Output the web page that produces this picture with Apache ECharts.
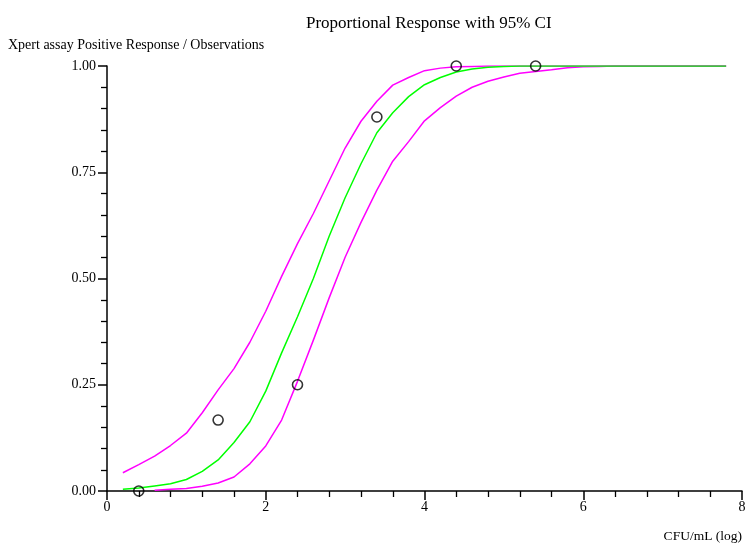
<!DOCTYPE html>
<html>
<head>
<meta charset="utf-8">
<script src="https://cdn.jsdelivr.net/npm/echarts@6/dist/echarts.min.js"></script>
<style>
  html, body { margin: 0; padding: 0; background: #fff; }
  #chart { width: 749px; height: 546px; }
</style>
</head>
<body>
<div id="chart"></div>
<script>
// Log10 CFU/mL grid on which the fitted curve and its confidence band are evaluated
const doseGrid = [0.2, 0.4, 0.6, 0.8, 1.0, 1.2, 1.4, 1.6, 1.8, 2.0,
                  2.2, 2.4, 2.6, 2.8, 3.0, 3.2, 3.4, 3.6, 3.8, 4.0,
                  4.2, 4.4, 4.6, 4.8, 5.0, 5.2, 5.4, 5.6, 5.8, 6.0,
                  6.2, 6.4, 6.6, 6.8, 7.0, 7.2, 7.4, 7.6, 7.8];

// Fitted proportion of positive responses
const fitMid = [0.004, 0.007, 0.012, 0.017, 0.027, 0.046, 0.073, 0.114, 0.163, 0.235,
                0.325, 0.41, 0.50, 0.60, 0.69, 0.77, 0.843, 0.89, 0.928, 0.956,
                0.973, 0.986, 0.993, 0.997, 0.999, 1.0, 1.0, 1.0, 1.0, 1.0,
                1.0, 1.0, 1.0, 1.0, 1.0, 1.0, 1.0, 1.0, 1.0];

// Upper 95% confidence limit
const ciUpper = [0.043, 0.062, 0.082, 0.107, 0.136, 0.184, 0.238, 0.288, 0.35, 0.423,
                 0.505, 0.582, 0.653, 0.73, 0.807, 0.87, 0.917, 0.955, 0.973, 0.989,
                 0.995, 0.998, 0.999, 1.0, 1.0, 1.0, 1.0, 1.0, 1.0, 1.0,
                 1.0, 1.0, 1.0, 1.0, 1.0, 1.0, 1.0, 1.0, 1.0];

// Lower 95% confidence limit (hidden under the axis for the lowest doses)
const ciLower = [null, null, 0.002, 0.004, 0.006, 0.011, 0.019, 0.033, 0.064, 0.106,
                 0.167, 0.258, 0.355, 0.455, 0.55, 0.632, 0.708, 0.776, 0.822, 0.871,
                 0.902, 0.929, 0.950, 0.964, 0.974, 0.983, 0.987, 0.991, 0.996, 0.998,
                 0.999, 1.0, 1.0, 1.0, 1.0, 1.0, 1.0, 1.0, 1.0];

// Observed proportions (positives / observations)
const obsDose = [0.4, 1.4, 2.4, 3.4, 4.4, 5.4];
const obsProp = [0.0, 0.167, 0.25, 0.88, 1.0, 1.0];

// Axis ticks
const xTicks = [0, 2, 4, 6, 8];
const yTicks = [0, 0.25, 0.5, 0.75, 1.0];

const pairs = (xs, ys) => xs.map((x, i) => [x, ys[i]]);

const serif = 'Liberation Serif, Times New Roman, serif';
const chart = echarts.init(document.getElementById('chart'), null, { renderer: 'canvas' });

const axisCommon = {
  axisLine: { show: true, lineStyle: { color: '#000', width: 1.5 } },
  axisTick: { show: true, inside: false, length: 9, lineStyle: { color: '#000', width: 1.5 } },
  minorTick: { show: true, splitNumber: 5, length: 6, lineStyle: { color: '#000', width: 1.3 } },
  splitLine: { show: false },
  axisLabel: { color: '#000', fontFamily: serif, fontSize: 14 }
};

chart.setOption({
  backgroundColor: '#fff',
  animation: false,
  title: {
    text: 'Proportional Response with 95% CI',
    left: 301,
    top: 10,
    textStyle: { fontFamily: serif, fontSize: 17, fontWeight: 'normal', color: '#000' }
  },
  grid: { left: 107, right: 7, top: 66, bottom: 55, containLabel: false },
  xAxis: Object.assign({}, axisCommon, {
    type: 'value',
    min: xTicks[0],
    max: xTicks[xTicks.length - 1],
    interval: xTicks[1] - xTicks[0],
    axisLabel: Object.assign({}, axisCommon.axisLabel, { margin: 9, formatter: v => String(v) })
  }),
  yAxis: Object.assign({}, axisCommon, {
    type: 'value',
    min: yTicks[0],
    max: yTicks[yTicks.length - 1],
    interval: yTicks[1] - yTicks[0],
    axisLabel: Object.assign({}, axisCommon.axisLabel, { margin: 11, formatter: v => v.toFixed(2) })
  }),
  graphic: [
    {
      type: 'text', left: 8, top: 38,
      style: { text: 'Xpert assay Positive Response / Observations', font: '14px ' + serif, fill: '#000' }
    },
    {
      type: 'text', right: 7, top: 529,
      style: { text: 'CFU/mL (log)', font: '13.5px ' + serif, fill: '#000' }
    }
  ],
  series: [
    {
      name: 'Lower 95% CI', type: 'line', data: pairs(doseGrid, ciLower),
      showSymbol: false, symbol: 'none', connectNulls: false,
      lineStyle: { color: '#ff00ff', width: 1.5 }, z: 3
    },
    {
      name: 'Upper 95% CI', type: 'line', data: pairs(doseGrid, ciUpper),
      showSymbol: false, symbol: 'none',
      lineStyle: { color: '#ff00ff', width: 1.5 }, z: 3
    },
    {
      name: 'Fitted response', type: 'line', data: pairs(doseGrid, fitMid),
      showSymbol: false, symbol: 'none',
      lineStyle: { color: '#00ff00', width: 1.5 }, z: 4
    },
    {
      name: 'Observed', type: 'scatter', data: pairs(obsDose, obsProp),
      symbol: 'circle', symbolSize: 10,
      itemStyle: { color: 'rgba(0,0,0,0)', borderColor: '#000', borderWidth: 1.6 },
      z: 5
    }
  ]
});
</script>
</body>
</html>
